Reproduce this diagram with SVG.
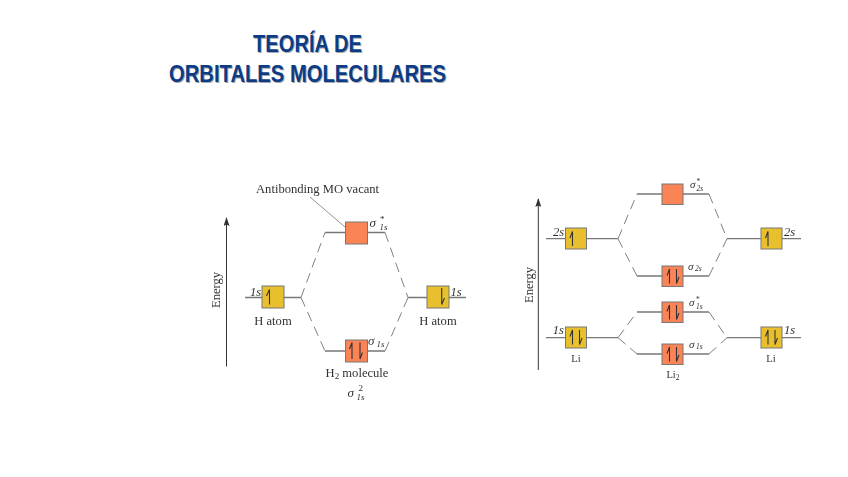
<svg xmlns="http://www.w3.org/2000/svg" width="848" height="477" viewBox="0 0 848 477">
<defs>
<marker id="ah" markerUnits="userSpaceOnUse" markerWidth="9" markerHeight="6" refX="8" refY="3" orient="auto" viewBox="0 0 9 6"><path d="M9 3L0 6L1.500 3L0 0Z" fill="#333"/></marker>
<filter id="soft" x="-5%" y="-5%" width="110%" height="110%"><feGaussianBlur stdDeviation="0.4"/></filter>
</defs>
<style>
.t{font:bold 23px "Liberation Sans",Arial,sans-serif}
.ts{fill:#a8a8a8}.tm{fill:#0b3c85}
.l{fill:#333;font-family:"Liberation Serif","Times New Roman",serif;font-size:12.6px}
.m{text-anchor:middle}
.i{font-style:italic}
.g{font-size:13px}
.g2{font-size:11px}
.s{font-size:9px}
.x{font-size:7.5px}
.li{font-size:10.5px}
.lv{stroke:#777;stroke-width:1.3;fill:none}
.d{stroke:#808080;stroke-width:1;fill:none;stroke-dasharray:10 6}
.ax{stroke:#333;stroke-width:1;fill:none}
.ld{stroke:#777;stroke-width:.8;fill:none}
.y{fill:#e8c02f;stroke:#777;stroke-width:1}
.o{fill:#fb8456;stroke:#777;stroke-width:1}
.a{stroke:#333;stroke-width:1.1;fill:none}
</style>
<g id="title">
<text class="t ts" x="254" y="53" textLength="109" lengthAdjust="spacingAndGlyphs">TEORÍA DE</text>
<text class="t ts" x="170" y="83" textLength="277" lengthAdjust="spacingAndGlyphs">ORBITALES MOLECULARES</text>
<text class="t tm" x="253" y="52" textLength="109" lengthAdjust="spacingAndGlyphs">TEORÍA DE</text>
<text class="t tm" x="169" y="82" textLength="277" lengthAdjust="spacingAndGlyphs">ORBITALES MOLECULARES</text>
</g>
<g filter="url(#soft)">
<g id="connectors">
<path class="ax" marker-end="url(#ah)" d="M226.500 366.500V218"/>
<path class="ax" marker-end="url(#ah)" d="M538.300 370V199"/>
<path class="lv" d="M245 297.500H301M408 297.500H466M325 232.500H385M325 351H385"/>
<path class="d" d="M301 297.500L325 232.500M385 232.500L408 297.500M301 297.500L325 351M385 351L408 297.500"/>
<path class="ld" d="M310 197L345 227"/>
<path class="lv" d="M546 238.700H618M727 238.700H801M637 194H709M637 276H709M637 312H709M637 354H709M546 337.700H618M727 337.700H801"/>
<path class="d" d="M618 238.700L637 194M709 194L727 238.700M618 238.700L637 276M709 276L727 238.700M618 337.700L637 312M709 312L727 337.700M618 337.700L637 354M709 354L727 337.700"/>
</g>
<g id="node-h-left"><rect class="y" x="262" y="286" width="22" height="22"/><path class="a" d="M269.500 304.500V289.500L266.500 296"/><text class="l i" x="250" y="295.500">1s</text><text class="l m" x="273" y="325">H atom</text></g>
<g id="node-h-right"><rect class="y" x="427" y="286" width="22" height="22"/><path class="a" d="M441.700 288V304.500L444.500 298"/><text class="l i" x="450.500" y="295.500">1s</text><text class="l m" x="438" y="325">H atom</text></g>
<g id="node-antibonding"><rect class="o" x="345.500" y="222" width="22" height="22"/><text class="l i g" x="369.500" y="227">σ</text><text class="l s" x="380" y="221.500">*</text><text class="l i s" x="379.500" y="230">1s</text><text class="l" x="256" y="192.500">Antibonding MO vacant</text></g>
<g id="node-bonding"><rect class="o" x="345.500" y="340" width="22" height="22"/><path class="a" d="M352 359V342.500L349.500 349M360 342.500V359L362.500 352.500"/><text class="l i g" x="368" y="345">σ</text><text class="l i s" x="376.500" y="347">1s</text><text class="l m" x="357" y="377">H<tspan class="s" dy="2">2</tspan><tspan dy="-2"> molecule</tspan></text><text class="l i g" x="347.500" y="397">σ</text><text class="l i s" x="356.500" y="400">1s</text><text class="l s" x="358.500" y="390.500">2</text></g>
<g id="energy-left"><text class="l m" transform="translate(220 290) rotate(-90)">Energy</text></g>
<g id="node-2s-left"><rect class="y" x="565.500" y="228" width="21" height="21"/><path class="a" d="M572.500 246V231.500L570 238"/><text class="l i" x="553" y="235.700">2s</text></g>
<g id="node-2s-right"><rect class="y" x="761" y="228" width="21" height="21"/><path class="a" d="M768 246V231.500L765.500 238"/><text class="l i" x="784" y="235.700">2s</text></g>
<g id="node-s2s-star"><rect class="o" x="662" y="184" width="21" height="20.500"/><text class="l i g2" x="690" y="188">σ</text><text class="l i x" x="696.500" y="191">2s</text><text class="l x" x="696.500" y="184">*</text></g>
<g id="node-s2s"><rect class="o" x="662" y="266" width="21" height="20.500"/><path class="a" d="M669.500 283.500V269L667 275.500M676.500 269V283.500L679 277"/><text class="l i g2" x="688" y="270">σ</text><text class="l i x" x="695" y="271">2s</text></g>
<g id="node-s1s-star"><rect class="o" x="662" y="302" width="21" height="20.500"/><path class="a" d="M669.500 319.500V305L667 311.500M676.500 305V319.500L679 313"/><text class="l i g2" x="689" y="306">σ</text><text class="l i x" x="696" y="308.500">1s</text><text class="l x" x="696" y="302">*</text></g>
<g id="node-s1s"><rect class="o" x="662" y="344" width="21" height="20.500"/><path class="a" d="M669.500 361.500V347L667 353.500M676.500 347V361.500L679 355"/><text class="l i g2" x="689" y="348">σ</text><text class="l i x" x="696" y="349">1s</text></g>
<g id="node-1s-left"><rect class="y" x="565.500" y="327" width="21" height="21"/><path class="a" d="M572.500 344.500V330L570 336.500M579.500 330V344.500L582 338"/><text class="l i" x="552.700" y="334">1s</text><text class="l m li" x="576" y="362">Li</text></g>
<g id="node-1s-right"><rect class="y" x="761" y="327" width="21" height="21"/><path class="a" d="M768 344.500V330L765.500 336.500M775 330V344.500L777.500 338"/><text class="l i" x="784" y="334">1s</text><text class="l m li" x="771" y="362">Li</text></g>
<g id="energy-right"><text class="l m" transform="translate(533 285) rotate(-90)">Energy</text></g>
<text class="l m li" x="673" y="378">Li<tspan class="x" dy="2">2</tspan></text>
</g>
</svg>
